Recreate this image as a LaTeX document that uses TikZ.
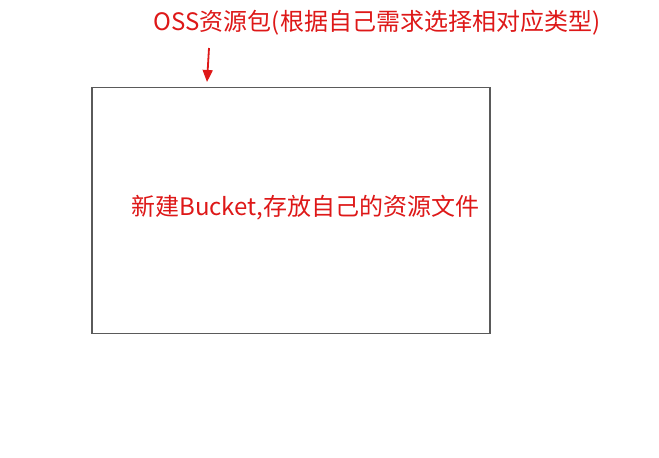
\documentclass[tikz,border=0pt]{standalone}
\usepackage{fontspec}
\newfontfamily\cjk{Noto Sans CJK SC}
\usetikzlibrary{arrows.meta}
\definecolor{notered}{RGB}{222,24,24}
\definecolor{boxgray}{RGB}{90,90,90}
\begin{document}
\begin{tikzpicture}[x=1pt,y=-1pt,font=\cjk\fontsize{24}{28}\selectfont]

\useasboundingbox[fill=white] (0,0) rectangle (659,458);

%OSS

\begin{scope}
\node [text=notered, inner sep=0pt] (titolo) at (377,23) {OSS资源包(根据自己需求选择相对应类型)};

\node [draw=boxgray, line width=1.5pt, minimum width=398pt, minimum height=246pt, inner sep=0pt] (bucket) at (291,210.5) {};
\node [text=notered, inner sep=0pt] (testo) at (305.5,208) {新建Bucket,存放自己的资源文件};

\coordinate (p) at (209,48);
\coordinate (q) at (207,82);
\draw [notered, line width=1.8pt, -{Triangle[length=12pt,width=10pt]}] (p) -- (q);
\end{scope}

\end{tikzpicture}
\end{document}
